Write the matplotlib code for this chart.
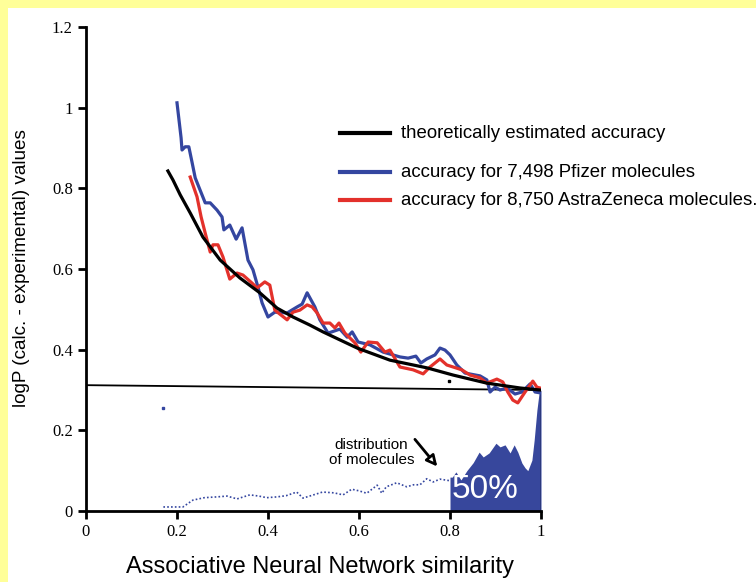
import matplotlib.pyplot as plt
from matplotlib.patches import Rectangle

# ---- data ----
theory_x = [0.180, 0.191, 0.207, 0.229, 0.257, 0.295, 0.338, 0.382, 0.420, 0.455,
            0.492, 0.521, 0.596, 0.668, 0.749, 0.807, 0.881, 0.954, 0.998]
theory_y = [0.843, 0.821, 0.784, 0.739, 0.679, 0.622, 0.578, 0.541, 0.503, 0.481,
            0.461, 0.444, 0.404, 0.374, 0.355, 0.337, 0.317, 0.305, 0.300]

pfizer_x = [0.200, 0.209, 0.211, 0.218, 0.226, 0.233, 0.240, 0.262, 0.273, 0.288,
            0.299, 0.303, 0.316, 0.330, 0.343, 0.356, 0.367, 0.378, 0.387, 0.400,
            0.415, 0.442, 0.464, 0.475, 0.486, 0.503, 0.514, 0.532, 0.558, 0.574,
            0.585, 0.598, 0.624, 0.653, 0.690, 0.708, 0.725, 0.736, 0.749, 0.767,
            0.778, 0.789, 0.800, 0.815, 0.833, 0.866, 0.881, 0.888, 0.899, 0.910,
            0.925, 0.943, 0.958, 0.976, 0.987, 0.998]
pfizer_y = [1.012, 0.925, 0.895, 0.903, 0.903, 0.865, 0.826, 0.764, 0.764, 0.746,
            0.729, 0.697, 0.709, 0.674, 0.702, 0.622, 0.598, 0.555, 0.516, 0.481,
            0.493, 0.491, 0.506, 0.513, 0.541, 0.506, 0.474, 0.441, 0.451, 0.431,
            0.444, 0.419, 0.412, 0.394, 0.382, 0.379, 0.384, 0.367, 0.377, 0.387,
            0.404, 0.399, 0.387, 0.362, 0.342, 0.335, 0.325, 0.295, 0.307, 0.300,
            0.305, 0.290, 0.295, 0.315, 0.295, 0.293]

az_x = [0.229, 0.244, 0.253, 0.262, 0.273, 0.279, 0.290, 0.301, 0.316, 0.332,
        0.345, 0.365, 0.376, 0.393, 0.404, 0.415, 0.442, 0.455, 0.470, 0.486,
        0.497, 0.508, 0.521, 0.536, 0.547, 0.556, 0.569, 0.591, 0.604, 0.620,
        0.640, 0.657, 0.668, 0.690, 0.719, 0.741, 0.756, 0.778, 0.793, 0.807,
        0.826, 0.844, 0.866, 0.881, 0.903, 0.916, 0.927, 0.938, 0.949, 0.965,
        0.982, 0.991, 0.998]
az_y = [0.828, 0.779, 0.729, 0.689, 0.642, 0.660, 0.660, 0.630, 0.575, 0.590,
        0.585, 0.565, 0.553, 0.568, 0.560, 0.498, 0.474, 0.493, 0.498, 0.511,
        0.506, 0.491, 0.466, 0.466, 0.454, 0.466, 0.441, 0.417, 0.394, 0.419,
        0.417, 0.394, 0.399, 0.357, 0.350, 0.340, 0.357, 0.377, 0.362, 0.357,
        0.350, 0.337, 0.330, 0.317, 0.327, 0.320, 0.295, 0.275, 0.268, 0.295,
        0.322, 0.307, 0.305]

# distribution of molecules (dotted part below 0.8, filled part above)
dist_x = [0.170, 0.213, 0.235, 0.260, 0.288, 0.310, 0.332, 0.360, 0.380, 0.397,
          0.420, 0.440, 0.463, 0.477, 0.500, 0.520, 0.545, 0.565, 0.584, 0.600,
          0.617, 0.640, 0.650, 0.660, 0.683, 0.705, 0.720, 0.734, 0.749, 0.763,
          0.778, 0.800]
dist_y = [0.010, 0.010, 0.027, 0.033, 0.035, 0.037, 0.030, 0.040, 0.037, 0.033,
          0.035, 0.038, 0.047, 0.032, 0.040, 0.047, 0.045, 0.040, 0.054, 0.050,
          0.044, 0.064, 0.044, 0.060, 0.070, 0.060, 0.065, 0.065, 0.080, 0.072,
          0.079, 0.075]
top_x = [0.800, 0.805, 0.813, 0.824, 0.837, 0.851, 0.864, 0.873, 0.886, 0.901,
         0.910, 0.921, 0.932, 0.941, 0.949, 0.958, 0.965, 0.971, 0.980, 0.985,
         0.991, 0.996, 1.000]
top_y = [0.084, 0.084, 0.097, 0.077, 0.100, 0.120, 0.146, 0.134, 0.144, 0.168,
         0.159, 0.164, 0.144, 0.164, 0.146, 0.119, 0.107, 0.100, 0.126, 0.176,
         0.250, 0.295, 0.300]

ref_x = [0.0, 1.0]
ref_y = [0.312, 0.300]

xticks = [0, 0.2, 0.4, 0.6, 0.8, 1]
xlabels = ['0', '0.2', '0.4', '0.6', '0.8', '1']
yticks = [0, 0.2, 0.4, 0.6, 0.8, 1, 1.2]
ylabels = ['0', '0.2', '0.4', '0.6', '0.8', '1', '1.2']

legend_labels = ['theoretically estimated accuracy',
                 'accuracy for 7,498 Pfizer molecules',
                 'accuracy for 8,750 AstraZeneca molecules.']

BLUE = '#3446a0'
RED = '#e3312b'
FILL = '#37479c'

fig = plt.figure(figsize=(7.56, 5.82), dpi=100, facecolor='#ffff99')
panel = Rectangle((8 / 756, 0), 748 / 756, 574 / 582, transform=fig.transFigure,
                  facecolor='white', edgecolor='none', zorder=-10)
fig.add_artist(panel)

ax = fig.add_axes([86 / 756, 1 - 511 / 582, 455 / 756, 484 / 582])
ax.set_facecolor('none')
ax.set_xlim(0, 1)
ax.set_ylim(0, 1.2)

# distribution
ax.plot(dist_x, dist_y, color=BLUE, lw=1.2, ls=(0, (1, 1.3)))
ax.fill_between(top_x, 0, top_y, color=FILL, lw=0)
ax.plot([1, 1], [0, 0.3], color='black', lw=1)
ax.text(0.877, 0.054, '50%', color='white', fontsize=24, ha='center', va='center',
        family='Liberation Sans')

# stray specks in the original
ax.plot([0.169], [0.255], marker='s', ms=1.5, color=BLUE, lw=0)
ax.plot([0.798], [0.322], marker='s', ms=1.5, color='black', lw=0)

# reference line
ax.plot(ref_x, ref_y, color='black', lw=1.3)

# curves
ax.plot(pfizer_x, pfizer_y, color=BLUE, lw=2.3, solid_joinstyle='round')
ax.plot(az_x, az_y, color=RED, lw=2.3, solid_joinstyle='round')
ax.plot(theory_x, theory_y, color='black', lw=2.3, solid_joinstyle='round')

# legend drawn by hand
leg_y = [0.937, 0.840, 0.771]
for yy, c, lab in zip(leg_y, ['black', BLUE, RED], legend_labels):
    ax.plot([0.558, 0.668], [yy, yy], color=c, lw=3, clip_on=False)
    ax.text(0.692, yy, lab, fontsize=13.4, va='center', ha='left',
            family='Liberation Sans', clip_on=False)

# annotation
ax.text(0.627, 0.146, 'distribution\nof molecules', fontsize=11, ha='center',
        va='center', family='Liberation Sans', linespacing=1.1)
ax.annotate('', xy=(0.776, 0.105), xytext=(0.719, 0.183),
            arrowprops=dict(arrowstyle='-|>', fc='white', ec='black', lw=2,
                            mutation_scale=16))

for s in ['top', 'right']:
    ax.spines[s].set_visible(False)
for s in ['left', 'bottom']:
    ax.spines[s].set_linewidth(2)

ax.set_xticks(xticks)
ax.set_xticklabels(xlabels)
ax.set_yticks(yticks)
ax.set_yticklabels(ylabels)
ax.tick_params(direction='out', length=6, width=2, labelsize=12)
for lab in ax.get_xticklabels() + ax.get_yticklabels():
    lab.set_family('Liberation Serif')

fig.text(22 / 756, 1 - 268 / 582, 'logP (calc. - experimental) values',
         fontsize=13.6, family='Liberation Sans', rotation=90,
         ha='center', va='center')
fig.text(320 / 756, 1 - 567 / 582, 'Associative Neural Network similarity',
         fontsize=17, family='Liberation Sans', ha='center', va='center')

fig.savefig('out.png', dpi=100, facecolor=fig.get_facecolor())
